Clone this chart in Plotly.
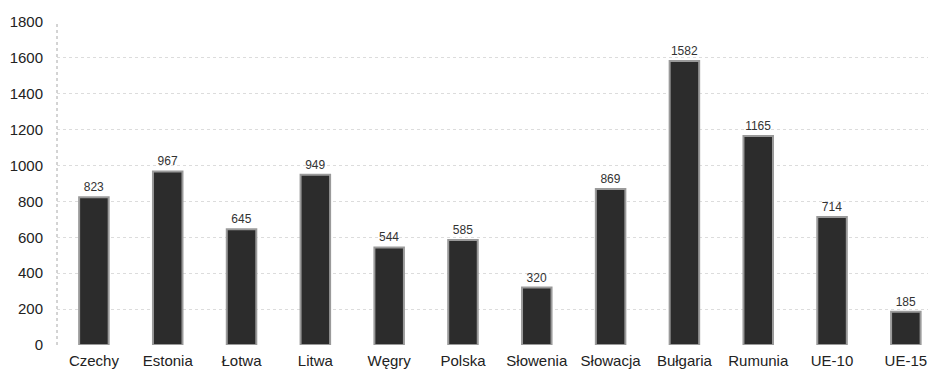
import plotly.graph_objects as go

countries = ["Czechy", "Estonia", "Łotwa", "Litwa", "Węgry", "Polska",
             "Słowenia", "Słowacja", "Bułgaria", "Rumunia", "UE-10", "UE-15"]
values = [823, 967, 645, 949, 544, 585, 320, 869, 1582, 1165, 714, 185]
y_ticks = [0, 200, 400, 600, 800, 1000, 1200, 1400, 1600, 1800]

FONT = "Liberation Sans, Arial"

fig = go.Figure()
fig.add_trace(go.Bar(
    x=countries,
    y=values,
    text=[str(v) for v in values],
    textposition="outside",
    textfont=dict(family=FONT, size=12, color="#333333"),
    cliponaxis=False,
    width=0.4,
    marker=dict(
        color="#2c2c2c",
        line=dict(color="#9a9a9a", width=2),
    ),
))

# dashed vertical axis on the left
fig.add_shape(type="line", xref="paper", yref="y", x0=0, x1=0,
              y0=0, y1=1800, line=dict(color="#a8a8a8", width=1, dash="dot"))

fig.update_layout(
    width=928,
    height=374,
    margin=dict(l=57, r=0, t=22, b=29, autoexpand=False),
    paper_bgcolor="white",
    plot_bgcolor="white",
    showlegend=False,
    font=dict(family=FONT, size=15, color="#222222"),
    xaxis=dict(
        type="category",
        range=[-0.5, 11.3],
        automargin=False,
        showgrid=False,
        showline=False,
        ticks="outside",
        ticklen=2,
        tickcolor="rgba(0,0,0,0)",
        tickfont=dict(family=FONT, size=15, color="#222222"),
    ),
    yaxis=dict(
        range=[0, 1800],
        automargin=False,
        tickvals=y_ticks,
        ticktext=[str(t) for t in y_ticks],
        showgrid=True,
        gridcolor="#dcdcdc",
        griddash="dot",
        gridwidth=1,
        zeroline=False,
        showline=False,
        ticks="outside",
        ticklen=10,
        tickcolor="rgba(0,0,0,0)",
        tickfont=dict(family=FONT, size=15, color="#222222"),
    ),
)

fig.write_html("out.html")
